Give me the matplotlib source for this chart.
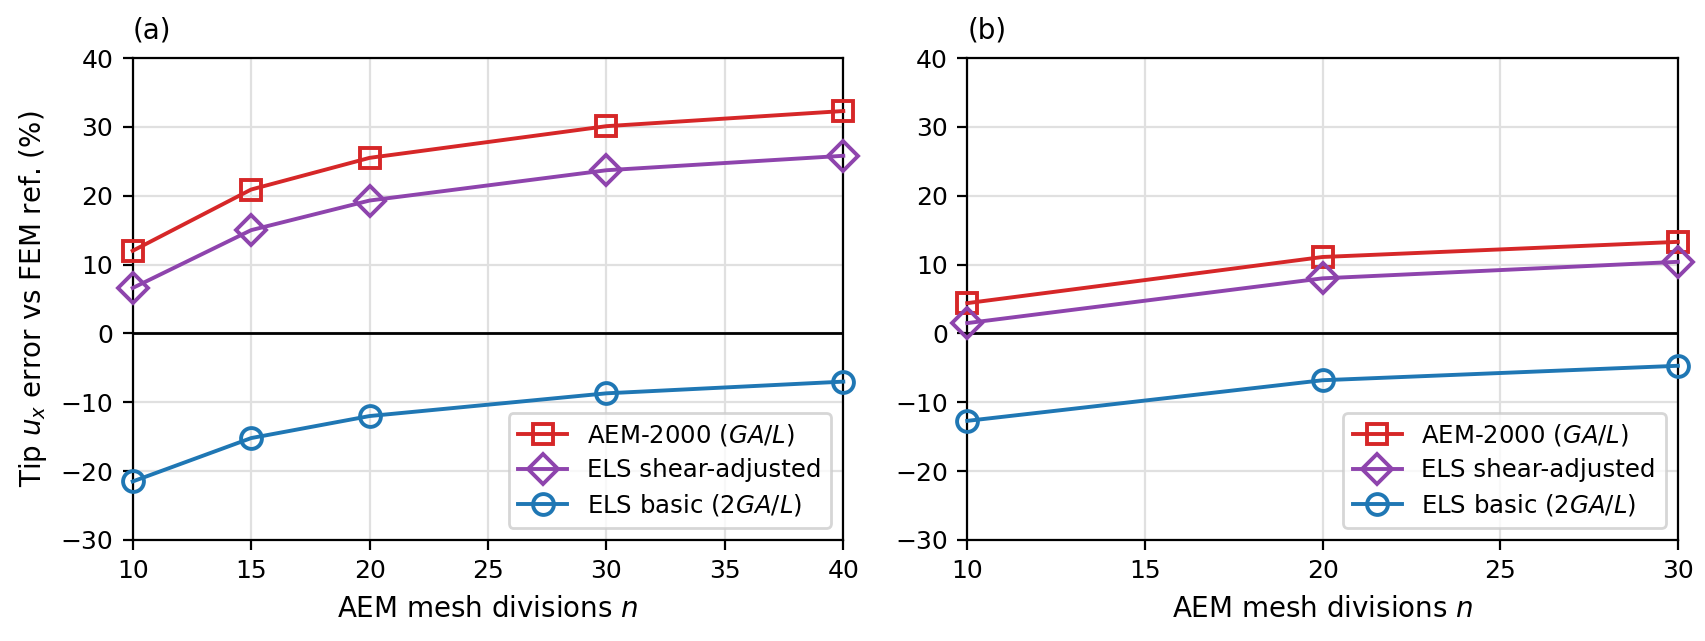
import matplotlib
matplotlib.use("Agg")
import matplotlib.pyplot as plt

# panel (a)
n_a = [10, 15, 20, 30, 40]
aem_a = [12.0, 20.9, 25.5, 30.1, 32.3]
shear_a = [6.6, 15.0, 19.3, 23.7, 25.8]
basic_a = [-21.5, -15.2, -12.0, -8.7, -7.0]

# panel (b)
n_b = [10, 20, 30]
aem_b = [4.4, 11.1, 13.3]
shear_b = [1.5, 8.0, 10.4]
basic_b = [-12.7, -6.8, -4.7]

labels = ["AEM-2000 ($GA/L$)", "ELS shear-adjusted", "ELS basic ($2GA/L$)"]
colors = ["#d62728", "#8e44ad", "#1f77b4"]
markers = ["s", "D", "o"]
msizes = [7, 7.5, 7.5]

fig = plt.figure(figsize=(8.53, 3.205), dpi=200)
ax_a = fig.add_axes([0.0778, 0.1576, 0.4165, 0.7519])
ax_b = fig.add_axes([0.5670, 0.1576, 0.4165, 0.7519])

panels = [
    (ax_a, n_a, [aem_a, shear_a, basic_a], "(a)"),
    (ax_b, n_b, [aem_b, shear_b, basic_b], "(b)"),
]

for ax, n, series, tag in panels:
    ax.axhline(0, color="black", lw=1.0, zorder=1)
    for ys, lab, c, m, ms in zip(series, labels, colors, markers, msizes):
        ax.plot(n, ys, color=c, marker=m, markersize=ms, markerfacecolor="none",
                markeredgewidth=1.4, lw=1.4, label=lab, zorder=3, clip_on=False)
    ax.set_xlim(n[0], n[-1])
    ax.set_ylim(-30, 40)
    ax.set_xticks(range(n[0], n[-1] + 1, 5))
    ax.set_yticks(range(-30, 41, 10))
    ax.grid(True, color="#e0e0e0", lw=0.8)
    ax.set_axisbelow(True)
    ax.tick_params(labelsize=9)
    ax.set_xlabel("AEM mesh divisions $n$", fontsize=10)
    ax.set_title(tag, loc="left", fontsize=10, pad=7)
    ax.legend(loc="lower right", fontsize=8.8, handlelength=2.0, labelspacing=0.4)

ax_a.set_ylabel("Tip $u_x$ error vs FEM ref. (%)", fontsize=10)

fig.savefig("out.png", dpi=200)
